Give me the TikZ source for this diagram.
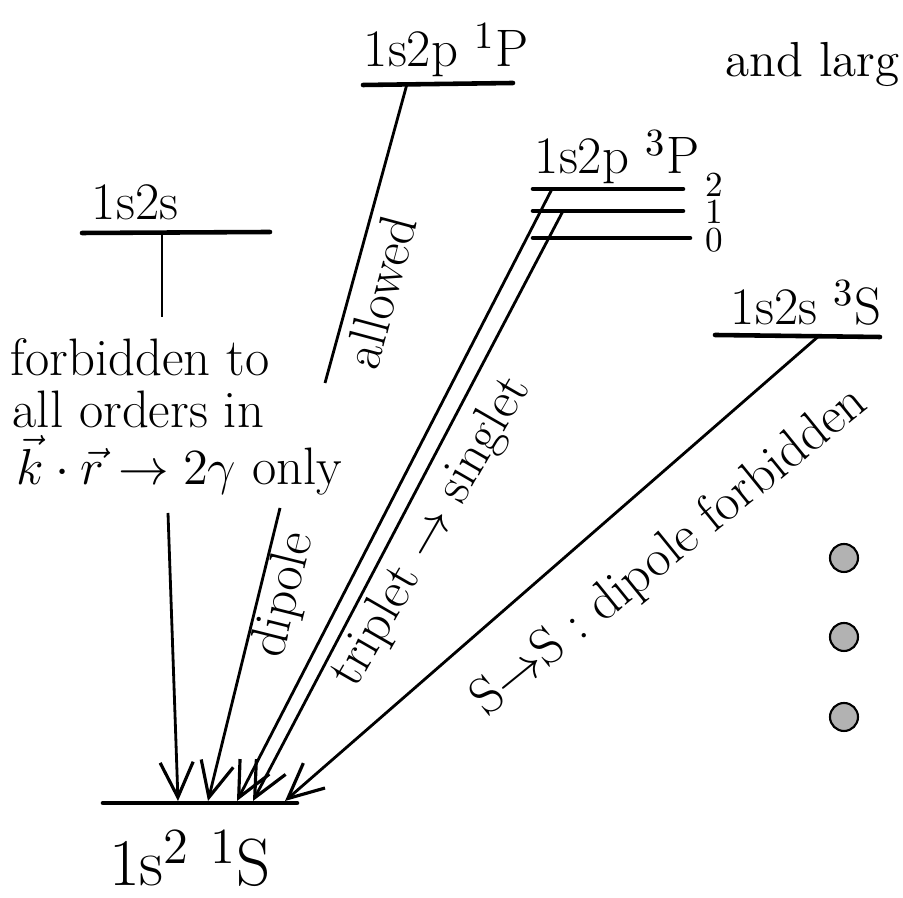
\documentclass[tikz,border=0pt]{standalone}
\usepackage{amsmath}
\usepackage{amssymb}
\usetikzlibrary{arrows.meta}

\tikzset{
    termline/.style={line width=1.3pt, line cap=round},
    stub/.style={line width=0.8pt},
    decay/.style={line width=0.8pt, -{Straight Barb[length=3.5mm, width=3.3mm, line width=0.9pt]}},
    termlabel/.style={font=\fontsize{15}{17}\selectfont},
    note/.style={font=\fontsize{15}{17}\selectfont},
    dot/.style={circle, draw=black, fill=gray!60, line width=0.6pt, minimum size=2.8mm, inner sep=0pt}
}

\begin{document}
\begin{tikzpicture}
    \useasboundingbox (0,0) rectangle (9.03,8.98);

    \coordinate (gL) at (1.03,0.95);
    \coordinate (gR) at (2.97,0.95);
    \draw[termline] (gL) -- (gR);
    \node[font=\fontsize{19}{21}\selectfont, anchor=base, inner sep=0pt] (gnd) at (1.90,0.12) {1s$^2$ $^1$S};

    \draw[termline] (0.82,6.65) -- (2.70,6.66);
    \node[termlabel] (ss) at (1.35,6.96) {1s2s};
    \coordinate (ssA) at (1.62,6.65);
    \coordinate (ssB) at (1.62,5.81);
    \draw[stub] (ssA) -- (ssB);
    \node[note, anchor=base west, inner sep=0pt] (forbA) at (0.10,5.22) {forbidden to};
    \node[note, anchor=base west, inner sep=0pt] (forbB) at (0.12,4.70) {all orders in};
    \node[note, anchor=base west, inner sep=0pt] (forbC) at (0.16,4.13) {$\vec{k}\cdot\vec{r} \to 2\gamma$ only};
    \coordinate (ssC) at (1.68,3.85);
    \coordinate (g1) at (1.78,0.97);
    \draw[decay] (ssC) -- (g1);

    \draw[termline] (3.63,8.13) -- (5.13,8.15);
    \node[termlabel] (sp1) at (4.46,8.48) {1s2p $^1$P};
    \coordinate (sp1A) at (4.07,8.14);
    \coordinate (sp1B) at (3.25,5.15);
    \draw[stub] (sp1A) -- (sp1B);
    \node[note, rotate=75] (allowed) at (3.80,6.06) {allowed};
    \coordinate (sp1C) at (2.80,3.90);
    \coordinate (g2) at (2.08,0.97);
    \draw[decay] (sp1C) -- (g2);
    \node[note, rotate=76] (dip) at (2.85,3.03) {dipole};

    \foreach \J/\yy/\xr/\ly in {2/7.09/6.83/7.13, 1/6.87/6.83/6.86, 0/6.60/6.90/6.58} {
        \draw[termline] (5.33,\yy) -- (\xr,\yy);
        \node[font=\fontsize{10}{11}\selectfont] (tp\J) at (7.14,\ly) {\J};
    }
    \node[termlabel] (sp3) at (6.17,7.41) {1s2p $^3$P};
    \coordinate (tp2A) at (5.52,7.09);
    \coordinate (tp1A) at (5.63,6.87);
    \coordinate (g3) at (2.37,0.97);
    \coordinate (g4) at (2.53,0.97);
    \draw[decay] (tp2A) -- (g3);
    \draw[decay] (tp1A) -- (g4);
    \node[note, rotate=60] (trip) at (4.32,3.66) {triplet $\to$ singlet};

    \draw[termline] (7.15,5.63) -- (8.80,5.61);
    \node[termlabel] (ts) at (8.06,5.95) {1s2s $^3$S};
    \coordinate (tsA) at (8.20,5.63);
    \coordinate (g5) at (2.85,0.97);
    \draw[decay] (tsA) -- (g5);
    \node[note, rotate=39] (sds) at (6.70,3.46) {S$\to$S : dipole forbidden};

    \node[font=\fontsize{14}{16}\selectfont, anchor=base west, inner sep=0pt] (andlarg) at (7.25,8.21) {and larg};

    \foreach \yy [count=\i] in {3.40,2.61,1.81}
        \node[dot] (b\i) at (8.44,\yy) {};
\end{tikzpicture}
\end{document}
